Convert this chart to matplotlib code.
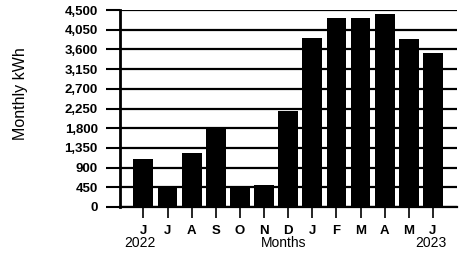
import numpy as np
import matplotlib.pyplot as plt

# monthly usage
months = ['J', 'J', 'A', 'S', 'O', 'N', 'D', 'J', 'F', 'M', 'A', 'M', 'J']
kwh = [1090, 470, 1240, 1800, 480, 510, 2190, 3870, 4310, 4310, 4400, 3850, 3530]
yticks = [0, 450, 900, 1350, 1800, 2250, 2700, 3150, 3600, 4050, 4500]
ytick_labels = ['0', '450', '900', '1,350', '1,800', '2,250', '2,700', '3,150', '3,600', '4,050', '4,500']

plt.rcParams['font.family'] = ['Liberation Sans', 'DejaVu Sans']

fig = plt.figure(figsize=(4.65, 2.59), dpi=100)
ax = fig.add_axes([0.258, 0.201, 0.725, 0.760])

x = np.arange(len(months))
ax.bar(x, kwh, width=0.82, color='black', zorder=3)

# horizontal grid lines at every tick
ax.set_axisbelow(True)
ax.yaxis.grid(True, color='black', lw=1.6)

ax.set_xlim(-0.97, 13.0)
ax.set_ylim(0, 4500)
ax.set_yticks(yticks)
ax.set_yticklabels(ytick_labels, fontsize=9.5, fontweight='bold')
ax.set_xticks(x)
ax.set_xticklabels(months, fontsize=9.5, fontweight='bold')
ax.tick_params(axis='y', direction='out', length=10, width=1.5, pad=6)
ax.tick_params(axis='x', direction='out', length=8, width=1.2, pad=5)

for s in ['top', 'right']:
    ax.spines[s].set_visible(False)
ax.spines['left'].set_linewidth(2)
ax.spines['bottom'].set_linewidth(1.6)

fig.text(21 / 465, 1 - 94 / 259, 'Monthly kWh', rotation=90, fontsize=11.5,
         ha='center', va='center')
fig.text(140 / 465, 1 - 243 / 259, '2022', fontsize=10, ha='center', va='center')
fig.text(284 / 465, 1 - 243 / 259, 'Months', fontsize=10, ha='center', va='center')
fig.text(431 / 465, 1 - 243 / 259, '2023', fontsize=10, ha='center', va='center')

fig.savefig('out.png', dpi=100)
